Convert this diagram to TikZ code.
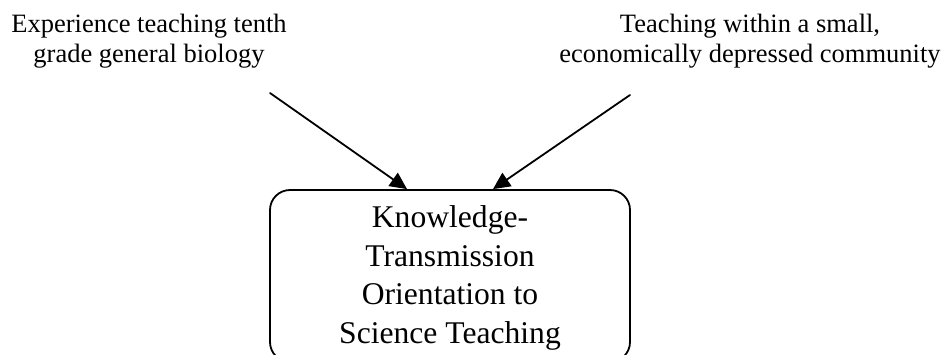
\documentclass[tikz,border=0pt]{standalone}
\usepackage{fontspec}
\setmainfont{Liberation Serif}
\usetikzlibrary{arrows.meta, calc}

\tikzset{
  srclabel/.style={align=center, inner sep=0pt, anchor=north,
    font=\fontsize{13.25}{15}\selectfont},
  orientbox/.style={draw, rounded corners=10pt, line width=0.9pt,
    minimum width=180pt, minimum height=86pt, inner sep=0pt},
  orientlabel/.style={align=center, inner sep=0pt,
    font=\fontsize{15.8}{19.2}\selectfont}
}

\begin{document}
\begin{tikzpicture}[line cap=round,line join=round,>={Triangle[length=8.5pt,width=8pt]},x=0.5pt,y=-0.5pt]
\clip (0,0) rectangle (942,354);

\node[orientbox] (orient) at (450,276) {};
\node[orientlabel] (orienttxt) at (450,278) {Knowledge-\\Transmission\\Orientation to\\Science Teaching};

\node[srclabel] (bio) at (149,14) {Experience teaching tenth\\grade general biology};
\node[srclabel] (comm) at (750,14) {Teaching within a small,\\economically depressed community};

\coordinate (bioTail) at (270,93);
\coordinate (commTail) at (630,95);

\draw[->, line width=0.9pt] (bioTail) -- ($(orient.north)+(-43,0)$);
\draw[->, line width=0.9pt] (commTail) -- ($(orient.north)+(43,0)$);

\end{tikzpicture}
\end{document}
